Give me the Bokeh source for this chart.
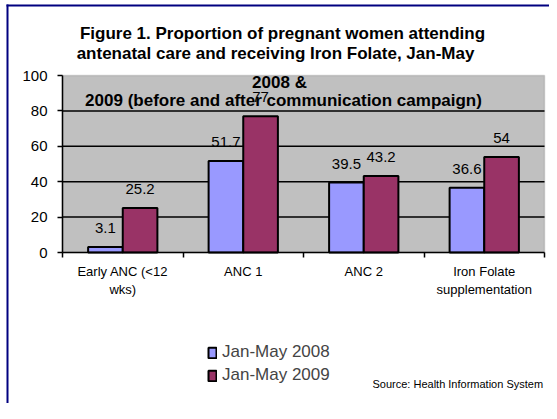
import numpy as np
from bokeh.plotting import figure
from bokeh.models import (ColumnDataSource, Range1d, FixedTicker, Label, Legend, LegendItem,
                          BoxAnnotation, LinearAxis)
from bokeh.core.properties import value
from bokeh.transform import dodge
from bokeh.embed import file_html
from bokeh.resources import INLINE

categories = ["Early ANC (<12\nwks)", "ANC 1", "ANC 2", "Iron Folate\nsupplementation"]
series_names = ["Jan-May 2008", "Jan-May 2009"]
values_2008 = [3.1, 51.7, 39.5, 36.6]
values_2009 = [25.2, 77, 43.2, 54]
y_ticks = [0, 20, 40, 60, 80, 100]
title_lines = ["Figure 1. Proportion of pregnant women attending",
               "antenatal care and receiving Iron Folate, Jan-May",
               "2008 &",
               "2009 (before and after communication campaign)"]
source_note = "Source: Health Information System"

FONT = "Liberation Sans"
BLUE = "#9999FF"
MAROON = "#993366"
GRAY = "#C0C0C0"
NAVY = "#000080"

# canvas geometry (pixels)
W, H = 549, 403
PLOT_L, PLOT_R, PLOT_T, PLOT_B = 62, 544, 75, 252
n = len(categories)
ymax = y_ticks[-1]
px_x = (PLOT_R - PLOT_L) / n
px_y = (PLOT_B - PLOT_T) / ymax
x_range = Range1d(-PLOT_L / px_x, n + (W - PLOT_R) / px_x)
y_range = Range1d(-(H - PLOT_B) / px_y, ymax + PLOT_T / px_y)

xc = np.arange(n) + 0.5
src = ColumnDataSource(dict(
    xc=xc,
    v08=values_2008,
    v09=values_2009,
    t08=[f"{v:g}" for v in values_2008],
    t09=[f"{v:g}" for v in values_2009],
))
inner_ticks = y_ticks[1:-1]
grid_src = ColumnDataSource(dict(y=inner_ticks, x0=[0] * len(inner_ticks),
                                 x1=[n] * len(inner_ticks)))

p = figure(width=W, height=H, output_backend="svg", toolbar_location=None,
           x_range=x_range, y_range=y_range, x_axis_type=None, y_axis_type=None,
           title=None, min_border=0)
p.background_fill_color = "white"
p.border_fill_color = "white"
p.outline_line_color = None

# plot area
p.add_layout(BoxAnnotation(left=0, right=n, bottom=0, top=ymax, fill_color=GRAY, fill_alpha=1,
                           line_color="#808080", line_width=1.5, level="underlay"))
# horizontal gridlines, limited to the plot area
p.segment(x0="x0", x1="x1", y0="y", y1="y", source=grid_src,
          line_color="black", line_width=1.5)

bw = 0.2875
r08 = p.vbar(x=dodge("xc", -bw / 2, range=p.x_range), top="v08", width=bw, source=src,
             fill_color=BLUE, line_color="black", line_width=2)
r09 = p.vbar(x=dodge("xc", bw / 2, range=p.x_range), top="v09", width=bw, source=src,
             fill_color=MAROON, line_color="black", line_width=2)

for col, t, dx in [("v08", "t08", -bw / 2), ("v09", "t09", bw / 2)]:
    p.text(x=dodge("xc", dx, range=p.x_range), y=col, text=t, source=src,
           text_align="center", text_baseline="middle", y_offset=-19,
           text_font_size="15px", text_color="black", text_font=value(FONT))

# y axis
yaxis = LinearAxis(fixed_location=0, bounds=(0, ymax), ticker=FixedTicker(ticks=y_ticks),
                   axis_line_color="black", axis_line_width=1.5,
                   major_tick_out=5, major_tick_in=0, major_tick_line_width=1.5,
                   minor_tick_line_color=None, major_label_standoff=10,
                   major_label_text_font=FONT, major_label_text_font_size="15px",
                   major_label_text_color="black")
p.add_layout(yaxis, "left")

# x axis: labels centred, ticks at category boundaries
xaxis = LinearAxis(fixed_location=0, bounds=(0, n),
                   ticker=FixedTicker(ticks=list(xc), minor_ticks=list(range(n + 1))),
                   major_label_overrides={float(x): c for x, c in zip(xc, categories)},
                   axis_line_color="black", axis_line_width=1.5,
                   major_tick_out=0, major_tick_in=0, major_tick_line_color=None,
                   minor_tick_out=5, minor_tick_in=0, minor_tick_line_color="black",
                   minor_tick_line_width=1.5, major_label_standoff=6,
                   major_label_text_font=FONT, major_label_text_font_size="13px",
                   major_label_text_color="black")
p.add_layout(xaxis, "below")

# title lines (screen units, measured from the bottom-left of the canvas)
title_cx = [282, 275, 279, 283]
title_cy = [33, 53, 82, 100]
for line, cx, cy in zip(title_lines, title_cx, title_cy):
    p.add_layout(Label(x=cx, y=H - cy, x_units="screen", y_units="screen", text=line,
                       text_align="center", text_baseline="middle",
                       text_font=FONT, text_font_size="17px", text_font_style="bold",
                       text_color="black"))

p.add_layout(Label(x=372, y=H - 383, x_units="screen", y_units="screen", text=source_note,
                   text_align="left", text_baseline="middle",
                   text_font=FONT, text_font_size="11px", text_color="black"))

legend = Legend(items=[LegendItem(label=series_names[0], renderers=[r08]),
                       LegendItem(label=series_names[1], renderers=[r09])],
                location=(207, H - 385), padding=0, margin=0, spacing=3,
                glyph_width=10, glyph_height=13, label_height=20, label_standoff=5,
                label_text_font=FONT, label_text_font_size="17px",
                border_line_color=None, background_fill_alpha=0)
p.add_layout(legend, "center")

# page frame (navy, left and top)
p.add_layout(BoxAnnotation(left=6, right=8, bottom=0, top=H - 4,
                           left_units="screen", right_units="screen",
                           bottom_units="screen", top_units="screen",
                           fill_color=NAVY, fill_alpha=1, line_color=None))
p.add_layout(BoxAnnotation(left=6, right=W, bottom=H - 6, top=H - 4,
                           left_units="screen", right_units="screen",
                           bottom_units="screen", top_units="screen",
                           fill_color=NAVY, fill_alpha=1, line_color=None))

open("out.html", "w").write(file_html(p, INLINE))
